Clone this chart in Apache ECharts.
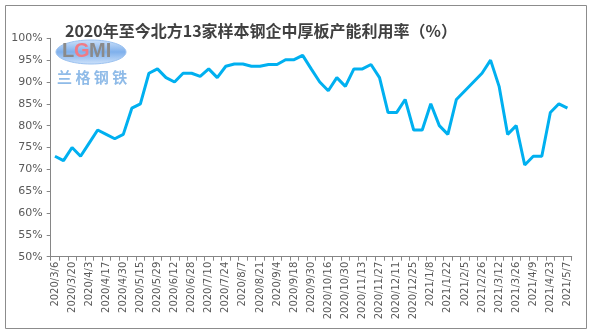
<!DOCTYPE html>
<html>
<head>
<meta charset="utf-8">
<script src="https://cdn.jsdelivr.net/npm/echarts@6/dist/echarts.min.js"></script>
<style>
html,body{margin:0;padding:0;background:#fff;}
#c{width:593px;height:336px;}
</style>
</head>
<body>
<div id="c"></div>
<script>
const titleText = '2020年至今北方13家样本钢企中厚板产能利用率（%）';
const dates = [
 '2020/3/6','2020/3/13','2020/3/20','2020/3/27','2020/4/3','2020/4/10','2020/4/17','2020/4/24','2020/4/30','2020/5/8',
 '2020/5/15','2020/5/22','2020/5/29','2020/6/5','2020/6/12','2020/6/19','2020/6/28','2020/7/3','2020/7/10','2020/7/17',
 '2020/7/24','2020/7/31','2020/8/7','2020/8/14','2020/8/21','2020/8/28','2020/9/4','2020/9/11','2020/9/18','2020/9/25',
 '2020/9/30','2020/10/9','2020/10/16','2020/10/23','2020/10/30','2020/11/6','2020/11/13','2020/11/20','2020/11/27','2020/12/4',
 '2020/12/11','2020/12/18','2020/12/25','2021/1/1','2021/1/8','2021/1/15','2021/1/22','2021/1/29','2021/2/5','2021/2/19',
 '2021/2/26','2021/3/5','2021/3/12','2021/3/19','2021/3/26','2021/4/2','2021/4/9','2021/4/16','2021/4/23','2021/4/30',
 '2021/5/7'
];
const utilization = [
 73,72,75,73,76,79,78,77,78,84,
 85,92,93,91,90,92,92,91.3,93,91,
 93.6,94.1,94.1,93.6,93.6,94,94,95.1,95.1,96.1,
 93,90,88,91,89,93,93,94,91,83,
 83,86,79,79,85,80,78,86,88,90,
 92,95,89,78,80,71,73,73,83,85,
 84
];
const yTicks = {min:50, max:100, step:5};

const chart = echarts.init(document.getElementById('c'), null, {renderer:'canvas'});
chart.setOption({
  animation:false,
  backgroundColor:'#fff',
  title:{
    text:titleText, left:256, top:18, textAlign:'center',
    textStyle:{fontSize:16, fontWeight:'bold', color:'#404040', fontFamily:'"Noto Sans CJK SC", sans-serif'}
  },
  graphic:[
    {type:'rect', shape:{x:5.5,y:5.5,width:581,height:323}, style:{fill:'none', stroke:'#8c8c8c', lineWidth:1}, z:-1},
    {type:'ellipse', shape:{cx:91,cy:52,rx:35,ry:12}, style:{fill:new echarts.graphic.LinearGradient(0,0,0,1,[{offset:0,color:'#cfe3fb'},{offset:0.5,color:'#7fb0ec'},{offset:1,color:'#cfe3fb'}]), stroke:'#9cc2f0', lineWidth:1}, z:1},
    {type:'text', x:62, y:41, style:{text:'L', fontSize:20, fontWeight:'bold', fill:'#8a8a8a', fontFamily:'Arial, sans-serif'}, z:2},
    {type:'text', x:74, y:41, style:{text:'G', fontSize:20, fontWeight:'bold', fill:'#f07b86', fontFamily:'Arial, sans-serif'}, z:2},
    {type:'text', x:89, y:41, style:{text:'MI', fontSize:20, fontWeight:'bold', fill:'#8a8a8a', fontFamily:'Arial, sans-serif'}, z:2},
    {type:'text', x:57, y:70, style:{text:'兰 格 钢 铁', fontSize:15, fontWeight:'bold', fill:'#8fbbe8', fontFamily:'"Noto Sans CJK SC", sans-serif'}, z:2}
  ],
  grid:{left:50.7, right:21.3, top:38.3, bottom:79.3, containLabel:false},
  xAxis:{
    type:'category', data:dates, boundaryGap:true,
    axisLine:{lineStyle:{color:'#868686', width:1}},
    axisTick:{show:true, interval:0, length:4, lineStyle:{color:'#868686'}},
    axisLabel:{interval:1, rotate:90, fontSize:10, color:'#595959', margin:5, fontFamily:'"DejaVu Sans", sans-serif'},
    splitLine:{show:false}
  },
  yAxis:{
    type:'value', min:yTicks.min, max:yTicks.max, interval:yTicks.step,
    axisLine:{show:true, lineStyle:{color:'#868686', width:1}},
    axisTick:{show:true, length:4, lineStyle:{color:'#868686'}},
    axisLabel:{formatter:'{value}%', fontSize:11, color:'#595959', margin:8, fontFamily:'"DejaVu Sans", sans-serif'},
    splitLine:{show:false}
  },
  series:[{
    type:'line', data:utilization, showSymbol:false, symbol:'none',
    lineStyle:{color:'#00B0F0', width:3}, itemStyle:{color:'#00B0F0'}
  }]
});
</script>
</body>
</html>
